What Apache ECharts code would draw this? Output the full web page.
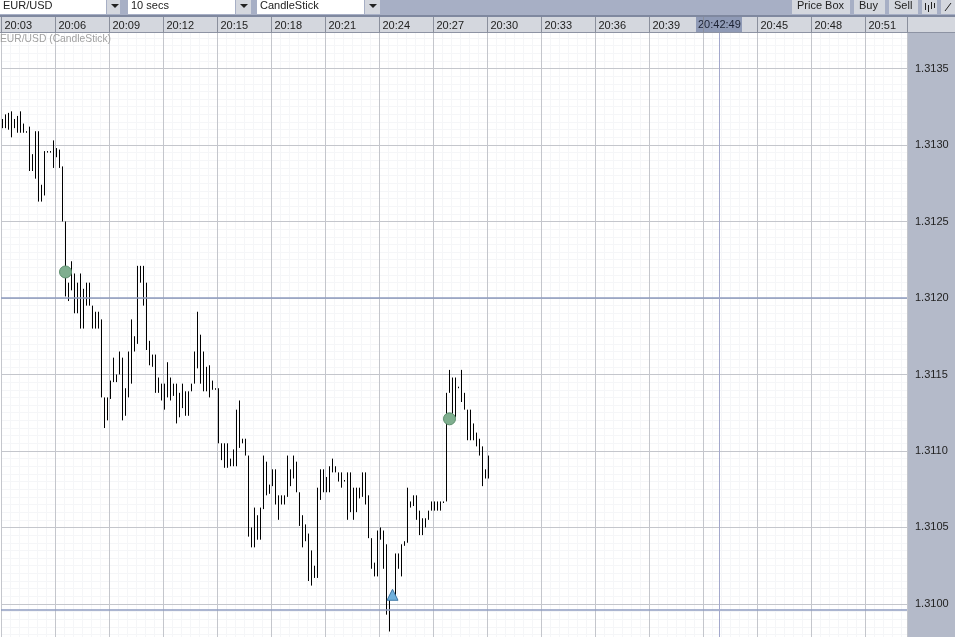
<!DOCTYPE html>
<html><head><meta charset="utf-8">
<style>html,body{margin:0;padding:0;background:#fff}#c{width:955px;height:637px}</style>
<script src="https://cdn.jsdelivr.net/npm/echarts@6/dist/echarts.min.js"></script>
</head><body><div id="c"></div>
<script>
const tickLabels=['20:03','20:06','20:09','20:12','20:15','20:18','20:21','20:24','20:27','20:30','20:33','20:36','20:39','','20:45','20:48','20:51'];
const highs=[1.31317,1.31320,1.31321,1.31322,1.31317,1.31319,1.31322,1.31314,1.31309,1.31312,1.31294,1.31309,1.31309,1.31274,1.31296,1.31296,1.31296,1.31303,1.31298,1.31297,1.31286,1.31250,1.31210,1.31224,1.31216,1.31210,1.31216,1.31206,1.31210,1.31210,1.31195,1.31191,1.31191,1.31186,1.31135,1.31135,1.31146,1.31161,1.31150,1.31165,1.31161,1.31141,1.31165,1.31186,1.31175,1.31221,1.31221,1.31221,1.31210,1.31172,1.31163,1.31163,1.31148,1.31144,1.31144,1.31158,1.31148,1.31144,1.31144,1.31138,1.31144,1.31139,1.31139,1.31144,1.31165,1.31191,1.31176,1.31165,1.31155,1.31156,1.31146,1.31141,1.31141,1.31105,1.31105,1.31105,1.31095,1.31101,1.31127,1.31133,1.31108,1.31108,1.31097,1.31050,1.31063,1.31058,1.31063,1.31097,1.31093,1.31078,1.31088,1.31088,1.31071,1.31071,1.31071,1.31097,1.31088,1.31097,1.31093,1.31073,1.31058,1.31052,1.31046,1.31035,1.31025,1.31076,1.31088,1.31088,1.31083,1.31090,1.31095,1.31090,1.31086,1.31086,1.31081,1.31086,1.31086,1.31076,1.31076,1.31076,1.31086,1.31086,1.31071,1.31043,1.31027,1.31048,1.31050,1.31048,1.31039,1.31003,1.31008,1.31033,1.31033,1.31039,1.31041,1.31076,1.31067,1.31071,1.31071,1.31061,1.31056,1.31056,1.31061,1.31067,1.31067,1.31067,1.31067,1.31067,1.31138,1.31153,1.31148,1.31148,1.31142,1.31153,1.31138,1.31127,1.31127,1.31118,1.31112,1.31108,1.31103,1.31088,1.31097];
const lows=[1.31311,1.31311,1.31310,1.31305,1.31311,1.31308,1.31308,1.31308,1.31308,1.31283,1.31283,1.31278,1.31263,1.31263,1.31267,1.31295,1.31295,1.31285,1.31292,1.31285,1.31250,1.31201,1.31198,1.31205,1.31190,1.31190,1.31180,1.31180,1.31195,1.31195,1.31180,1.31180,1.31180,1.31135,1.31115,1.31120,1.31134,1.31145,1.31145,1.31150,1.31120,1.31123,1.31135,1.31144,1.31165,1.31170,1.31210,1.31195,1.31166,1.31156,1.31155,1.31138,1.31138,1.31133,1.31127,1.31135,1.31133,1.31136,1.31118,1.31122,1.31128,1.31123,1.31123,1.31139,1.31144,1.31154,1.31144,1.31139,1.31139,1.31135,1.31140,1.31140,1.31105,1.31094,1.31089,1.31089,1.31090,1.31090,1.31090,1.31102,1.31105,1.31097,1.31044,1.31037,1.31037,1.31042,1.31042,1.31062,1.31071,1.31072,1.31077,1.31065,1.31055,1.31065,1.31065,1.31070,1.31077,1.31082,1.31073,1.31051,1.31037,1.31041,1.31015,1.31012,1.31017,1.31017,1.31068,1.31073,1.31073,1.31073,1.31086,1.31086,1.31080,1.31076,1.31080,1.31055,1.31060,1.31055,1.31060,1.31069,1.31070,1.31065,1.31043,1.31023,1.31018,1.31018,1.31042,1.31023,1.30993,1.30982,1.31003,1.31003,1.31023,1.31018,1.31038,1.31040,1.31063,1.31064,1.31055,1.31045,1.31045,1.31050,1.31055,1.31061,1.31061,1.31061,1.31061,1.31066,1.31067,1.31138,1.31122,1.31122,1.31141,1.31132,1.31127,1.31107,1.31107,1.31107,1.31103,1.31097,1.31077,1.31082,1.31082];
const circleMarkers=[[21,1.31217],[149,1.31121]];
const triangleMarkers=[[130,1.31006]];
const guidePrices=[1.312,1.30996];
const cursorIndex=239;
const cursorTime='20:42:49';
const priceMin=1.309784, priceMax=1.313732;

const categories=[];
for(let i=0;i<302;i++){const s=20*3600+3*60+i*10;const h=Math.floor(s/3600),m=Math.floor(s%3600/60),c=s%60;
  categories.push(String(h).padStart(2,'0')+':'+String(m).padStart(2,'0')+':'+String(c).padStart(2,'0'));}
const ohlc=highs.map((h,i)=>[lows[i],h,lows[i],h]);
const FONT='"Liberation Sans",Arial,sans-serif';
const bar='#a7afc5', strip='#d4d7de', edge='#7f889f';

function box(x,y,w,h,fill){return {type:'rect',shape:{x,y,width:w,height:h},style:{fill},z:-5,silent:true};}
function txt(x,y,t,size,color){return {type:'text',x,y,style:{text:t,font:(size||11)+'px '+FONT,fill:color||'#222',textVerticalAlign:'middle'},z:-3,silent:true};}
function arrow(cx,cy){return {type:'polygon',shape:{points:[[cx-4,cy-2],[cx+4,cy-2],[cx,cy+2]]},style:{fill:'#222'},z:-3,silent:true};}
function seg(x1,y1,x2,y2,c,w){return {type:'line',shape:{x1,y1,x2,y2},style:{stroke:c||'#222',lineWidth:w||1},z:-3,silent:true};}

const chrome=[
 box(0,0,955,15,bar),
 box(0,15,955,2,edge),
 box(0,17,955,15,strip),
 box(0,32,955,1,'#8d93a3'),
 box(907,33,48,604,'#b4bac9'),
 box(907,33,1,604,'#8089a0'),
 box(0,0,106,14,'#fff'),box(107,0,13,14,strip),arrow(115,6),txt(3,6,'EUR/USD'),
 box(128,0,107,14,'#fff'),box(236,0,15,14,strip),arrow(244,6),txt(131,6,'10 secs'),
 box(257,0,107,14,'#fff'),box(365,0,15,14,strip),arrow(373,6),txt(260,6,'CandleStick'),
 box(792,0,58,14,strip),txt(797,6,'Price Box'),
 box(854,0,31,14,strip),txt(859,6,'Buy'),
 box(889,0,29,14,strip),txt(894,6,'Sell'),
 box(922,0,15,14,strip),seg(925.5,3,925.5,10),seg(928.5,5,928.5,12),seg(931.5,2,931.5,9),seg(934.5,3,934.5,8),
 box(941,0,14,14,strip),seg(945,11,951,3),
 box(696,17,46,15,'#8f9ab6'),txt(698,25,cursorTime,11,'#1c2233')
];

const common={type:'category',data:categories,boundaryGap:true,gridIndex:0,position:'top'};
const option={
 animation:false,backgroundColor:'#fff',
 title:{text:'EUR/USD (CandleStick)',left:0,top:34,padding:0,textStyle:{color:'#a0a0a0',fontSize:10.3,fontWeight:'normal',fontFamily:FONT}},
 grid:[{left:1,top:33,width:906,height:604,show:false}],
 xAxis:[
  {...common,axisLine:{show:false},axisTick:{show:false},axisLabel:{show:false},
   splitLine:{show:true,interval:2,lineStyle:{color:'#f5f6f8',width:1}},z:0},
  {...common,axisLine:{show:false},
   axisTick:{show:true,interval:17,length:16,lineStyle:{color:'#8a8f9c'}},
   axisLabel:{show:true,interval:17,align:'left',margin:2,padding:[0,0,0,2],color:'#222',fontSize:11,fontFamily:FONT,hideOverlap:false,
     formatter:(v,i)=>tickLabels[i/18]===undefined?'':tickLabels[i/18]},
   splitLine:{show:true,interval:17,lineStyle:{color:'#c4c6cc',width:1}},z:1}
 ],
 yAxis:[
  {type:'value',gridIndex:0,position:'right',min:priceMin,max:priceMax,splitNumber:80,
   axisLine:{show:false},axisTick:{show:false},axisLabel:{show:false},
   splitLine:{show:true,showMinLine:false,showMaxLine:false,lineStyle:{color:'#f5f6f8',width:1}},z:0},
  {type:'value',gridIndex:0,position:'right',min:priceMin,max:priceMax,splitNumber:8,
   axisLine:{show:false},axisTick:{show:false},
   axisLabel:{margin:8,color:'#222',fontSize:11,fontFamily:FONT,showMinLabel:false,showMaxLabel:false,formatter:v=>v.toFixed(4)},
   splitLine:{show:true,showMinLine:false,showMaxLine:false,lineStyle:{color:'#c4c6cc',width:1}},z:1}
 ],
 graphic:{elements:chrome},
 series:[
  {type:'line',name:'guides',xAxisIndex:1,yAxisIndex:1,z:3,showSymbol:false,data:[],
   markLine:{silent:true,symbol:'none',precision:6,label:{show:false},animation:false,
    data:guidePrices.map(p=>({yAxis:p,lineStyle:{color:'#8f9cc0',width:1.5,type:'solid'}}))}},
  {type:'candlestick',name:'EUR/USD',xAxisIndex:1,yAxisIndex:1,data:ohlc,barWidth:1,z:4,
   itemStyle:{color:'#000',color0:'#000',borderColor:'#000',borderColor0:'#000',borderWidth:1},
   markLine:{silent:true,symbol:'none',label:{show:false},animation:false,
    data:[{xAxis:cursorIndex,lineStyle:{color:'#a3a8cc',width:1,type:'solid'}}]}},
  {type:'scatter',xAxisIndex:1,yAxisIndex:1,data:circleMarkers,symbol:'circle',symbolSize:12,z:5,
   itemStyle:{color:'#7fae8f',borderColor:'#5b8e6c',borderWidth:1,opacity:1}},
  {type:'scatter',xAxisIndex:1,yAxisIndex:1,data:triangleMarkers,symbol:'triangle',symbolSize:11,z:5,
   itemStyle:{color:'#6fb0dc',borderColor:'#3f78a6',borderWidth:1,opacity:1}}
 ]
};
echarts.init(document.getElementById('c'),null,{renderer:'canvas'}).setOption(option);
</script></body></html>
